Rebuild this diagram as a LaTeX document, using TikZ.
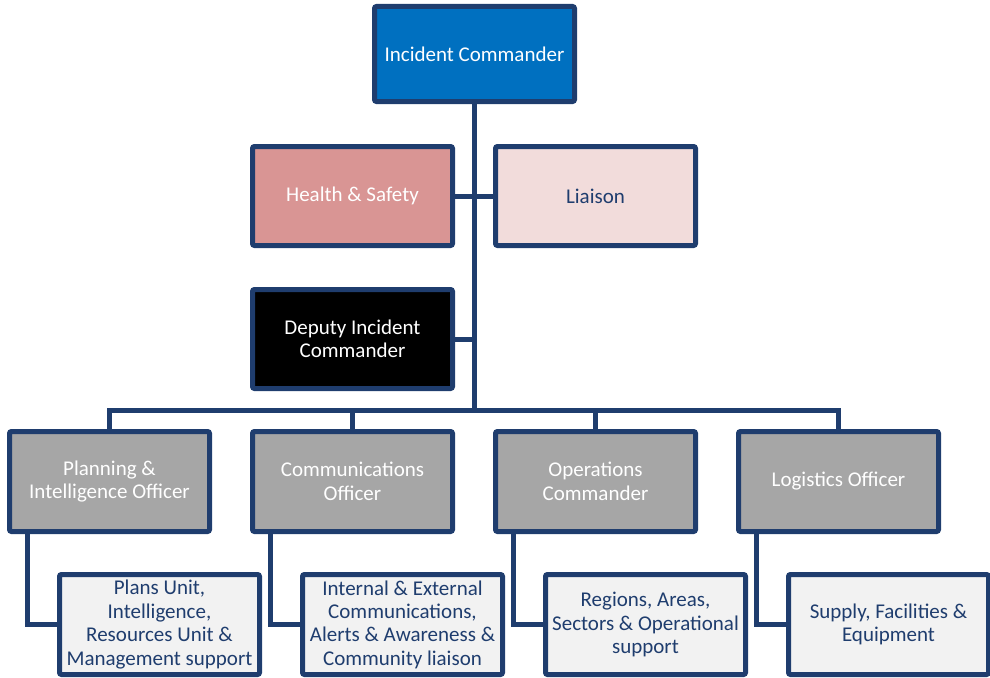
\documentclass[tikz,border=0pt]{standalone}
\usepackage{fontspec}
\setmainfont{Carlito}
\definecolor{edge}{RGB}{31,61,110}
\definecolor{cmdblue}{RGB}{0,112,192}
\definecolor{safety}{RGB}{217,149,148}
\definecolor{liaisonfill}{RGB}{242,220,219}
\definecolor{officer}{RGB}{166,166,166}
\definecolor{unitfill}{RGB}{242,242,242}
\definecolor{navytext}{RGB}{31,61,110}
\tikzset{
  box/.style={draw=edge, line width=5pt, rounded corners=2pt, align=center,
    minimum width=200pt, minimum height=99pt, inner sep=2pt,
    font=\fontsize{21}{23.4}\selectfont},
  topbox/.style={box, fill=cmdblue, text=white, minimum height=95pt},
  safetybox/.style={box, fill=safety, text=white},
  liaisonbox/.style={box, fill=liaisonfill, text=navytext},
  deputybox/.style={box, fill=black, text=white},
  officerbox/.style={box, fill=officer, text=white, minimum height=100pt},
  unitbox/.style={box, fill=unitfill, text=navytext, minimum height=100pt},
  link/.style={draw=edge, line width=5pt}
}
\begin{document}
\begin{tikzpicture}[x=1pt,y=-1pt]
\useasboundingbox (0,0) rectangle (990,677);

% command staff
\node[topbox] (ic) at (474.5,54) {Incident Commander};
\node[safetybox] (hs) at (352.5,196) {Health \& Safety};
\node[liaisonbox] (li) at (595.5,196) {Liaison};
\node[deputybox] (dep) at (352.5,339) {Deputy Incident\\Commander};

% officers
\node[officerbox] (plan) at (109.5,481.5) {Planning \&\\Intelligence Officer};
\node[officerbox] (comm) at (352.5,481.5) {Communications\\Officer};
\node[officerbox] (ops) at (595.5,481.5) {Operations\\Commander};
\node[officerbox] (log) at (838.5,481.5) {Logistics Officer};

% units
\node[unitbox] (planu) at (159.5,624.5) {Plans Unit,\\Intelligence,\\Resources Unit \&\\Management support};
\node[unitbox] (commu) at (402.5,624.5) {Internal \& External\\Communications,\\Alerts \& Awareness \&\\Community liaison};
\node[unitbox] (opsu) at (645.5,624.5) {Regions, Areas,\\Sectors \& Operational\\support};
\node[unitbox] (logu) at (888.5,624.5) {Supply, Facilities \&\\Equipment};

% connectors
\coordinate (bus) at (474.5,410.5);
\coordinate (dtap) at (474.5,339);
\draw[link] (ic.south) -- (bus);
\draw[link] (hs.east) -- (li.west);
\draw[link] (dep.east) -- (dtap);
\draw[link] (plan.north) |- (bus) -| (log.north);
\draw[link] (comm.north) -- (comm.north |- bus);
\draw[link] (ops.north) -- (ops.north |- bus);
\draw[link] ([xshift=20.5pt]plan.south west) |- (planu.west);
\draw[link] ([xshift=20.5pt]comm.south west) |- (commu.west);
\draw[link] ([xshift=20.5pt]ops.south west) |- (opsu.west);
\draw[link] ([xshift=20.5pt]log.south west) |- (logu.west);
\end{tikzpicture}
\end{document}
